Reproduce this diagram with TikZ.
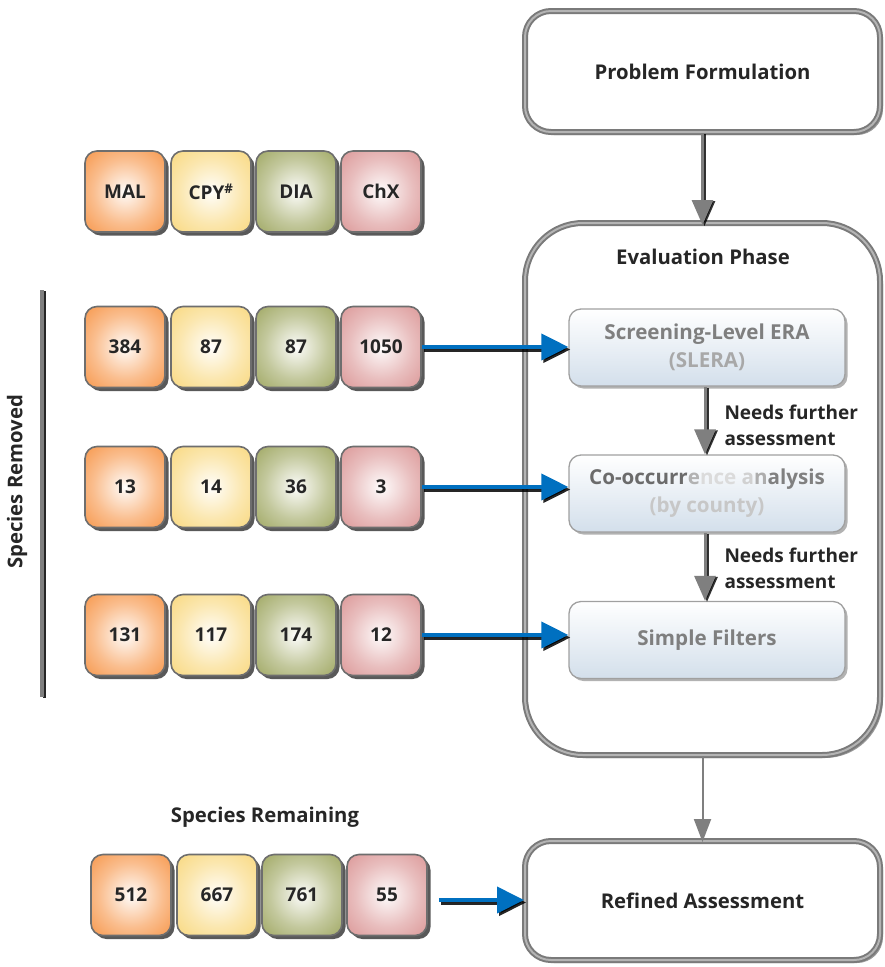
\documentclass[tikz,border=0pt]{standalone}
\usepackage{fontspec}
\setmainfont{Open Sans}
\usetikzlibrary{arrows.meta,shadows}

\definecolor{txtdark}{HTML}{262626}
\definecolor{malc}{HTML}{F68E3C}
\definecolor{cpyc}{HTML}{F8D574}
\definecolor{diac}{HTML}{97A055}
\definecolor{chxc}{HTML}{D88E8E}
\definecolor{boxrim}{HTML}{6E6E6E}
\definecolor{arrowgray}{HTML}{7F7F7F}
\definecolor{rimgray}{HTML}{7A7A7A}
\definecolor{rimlight}{HTML}{B4B4B4}
\definecolor{flowblue}{HTML}{0070C0}
\definecolor{stagebot}{HTML}{D3DFEB}
\definecolor{stagerim}{HTML}{A0A0A0}
\definecolor{stagetxt}{HTML}{7F7F7F}
\definecolor{stagepale}{HTML}{A8A8A8}

% radial glow: pale centre, saturated rim
\newcommand\declareglow[1]{%
  \pgfdeclareradialshading{glow#1}{\pgfpoint{0bp}{0bp}}{%
    color(0bp)=(white); color(4bp)=(#1!14!white); color(20bp)=(#1!58!white);
    color(36bp)=(#1!92!white); color(46bp)=(#1); color(50bp)=(#1)}}
\declareglow{malc}
\declareglow{cpyc}
\declareglow{diac}
\declareglow{chxc}

\tikzset{
  lbl/.style={font=\bfseries\fontsize{20.3}{26}\selectfont, text=txtdark},
  numfont/.style={font=\bfseries\fontsize{19}{24}\selectfont, text=txtdark},
  speciesbox/.style={numfont, draw=boxrim, line width=1.6pt, rounded corners=12pt,
    minimum width=80pt, minimum height=81pt, inner sep=0pt,
    drop shadow={shadow xshift=3.5pt, shadow yshift=-3.5pt, opacity=.65, fill=black}},
  malbox/.style={speciesbox, shading=glowmalc},
  cpybox/.style={speciesbox, shading=glowcpyc},
  diabox/.style={speciesbox, shading=glowdiac},
  chxbox/.style={speciesbox, shading=glowchxc},
  phasebox/.style={lbl, draw=rimgray, line width=2pt, double=rimlight, double distance=2pt,
    fill=white, minimum width=355pt,
    drop shadow={shadow xshift=3pt, shadow yshift=-3pt, opacity=.4, fill=black}},
  stagebox/.style={font=\bfseries\fontsize{20.6}{28}\selectfont, text=stagetxt, align=center,
    draw=stagerim, line width=1.3pt,
    rounded corners=12pt, top color=white, bottom color=stagebot,
    minimum width=276pt, minimum height=77pt,
    drop shadow={shadow xshift=2.5pt, shadow yshift=-2.5pt, opacity=.3, fill=black}},
  flow/.style={-{Triangle[length=27pt,width=26pt]}, line width=4pt, draw=flowblue, fill=flowblue},
  flowshade/.style={flow, draw=black, fill=black, opacity=.85,
    transform canvas={xshift=2pt, yshift=-2.5pt}},
  grayflow/.style={-{Triangle[length=25pt,width=21pt]}, line width=3pt, draw=arrowgray, fill=arrowgray},
  thinflow/.style={-{Triangle[length=23pt,width=17pt]}, line width=2pt, draw=arrowgray, fill=arrowgray},
  grayshade/.style={draw=black, fill=black, opacity=.8, transform canvas={xshift=2pt, yshift=-1pt}},
}

\begin{document}
\begin{tikzpicture}[x=1pt, y=-1pt]
\useasboundingbox (0,0) rectangle (885,967);

% ---- left column: species counts ----
\node[malbox] (h1) at (125,191.5) {MAL};
\node[cpybox] (h2) at (211,191.5) {CPY\textsuperscript{\#}};
\node[diabox] (h3) at (296,191.5) {DIA};
\node[chxbox] (h4) at (381,191.5) {ChX};

\node[malbox] (a1) at (125,347) {384};
\node[cpybox] (a2) at (211,347) {87};
\node[diabox] (a3) at (296,347) {87};
\node[chxbox] (a4) at (381,347) {1050};

\node[malbox] (b1) at (125,487) {13};
\node[cpybox] (b2) at (211,487) {14};
\node[diabox] (b3) at (296,487) {36};
\node[chxbox] (b4) at (381,487) {3};

\node[malbox] (c1) at (125,635) {131};
\node[cpybox] (c2) at (211,635) {117};
\node[diabox] (c3) at (296,635) {174};
\node[chxbox] (c4) at (381,635) {12};

\node[lbl] (remain) at (265,817) {Species Remaining};
\node[malbox] (d1) at (131,895) {512};
\node[cpybox] (d2) at (217,895) {667};
\node[diabox] (d3) at (302,895) {761};
\node[chxbox] (d4) at (387,895) {55};

% bracket for removed species
\draw[line width=3pt, black, opacity=.85] (44.5,291) -- (44.5,698);
\draw[line width=4pt, arrowgray] (42,290) -- (42,697);
\node[lbl, rotate=90] (removed) at (17,482) {Species Removed};

% ---- right column: assessment flow ----
\node[phasebox, rounded corners=26pt, minimum height=121pt] (prob) at (702.5,71.5) {Problem Formulation};
\node[phasebox, rounded corners=58pt, minimum height=532pt] (eval) at (702.5,489) {};
\node[lbl] (evalt) at (703,257) {Evaluation Phase};
\node[phasebox, rounded corners=26pt, minimum height=119pt] (refined) at (702.5,900.5) {Refined Assessment};

\node[stagebox] (slera) at (707,347.5) {Screening-Level ERA\\\textcolor{stagepale}{(SLERA)}};
\node[stagebox] (cooc) at (707,493.5) {%
  \textcolor{black!58}{Co-occurr}\textcolor{black!30}{e}\textcolor{black!14}{nce}
  \textcolor{black!18}{a}\textcolor{black!32}{n}\textcolor{black!50}{alysis}\\
  \textcolor{black!22}{(by county)}};
\node[stagebox] (filt) at (707,640) {Simple Filters};

\node[numfont, anchor=west, align=left, font=\bfseries\fontsize{19}{26}\selectfont] (need1) at (721,425) {Needs further\\assessment};
\node[numfont, anchor=west, align=left, font=\bfseries\fontsize{19}{26}\selectfont] (need2) at (721,568.5) {Needs further\\assessment};

% gray flow arrows
\draw[grayflow, grayshade, shorten >=-3pt] (prob.south) -- (eval.north);
\draw[grayflow, shorten >=-3pt] (prob.south) -- (eval.north);
\draw[grayflow, grayshade] ([xshift=-2pt]slera.south) -- ([xshift=-2pt]cooc.north);
\draw[grayflow] ([xshift=-2pt]slera.south) -- ([xshift=-2pt]cooc.north);
\draw[grayflow, grayshade] ([xshift=-2pt]cooc.south) -- ([xshift=-2pt]filt.north);
\draw[grayflow] ([xshift=-2pt]cooc.south) -- ([xshift=-2pt]filt.north);
\draw[thinflow, shorten >=-2pt] (eval.south) -- (refined.north);

% blue flow arrows
\foreach \src/\dst in {a4/slera, b4/cooc, c4/filt}{
  \draw[flowshade] (\src.east) -- (\dst.west |- \src.east);
  \draw[flow] (\src.east) -- (\dst.west |- \src.east);
}
\coordinate (d4out) at ([xshift=11pt, yshift=-5pt]d4.east);
\draw[flowshade] (d4out) -- (refined.west |- d4out);
\draw[flow] (d4out) -- (refined.west |- d4out);
\end{tikzpicture}
\end{document}
